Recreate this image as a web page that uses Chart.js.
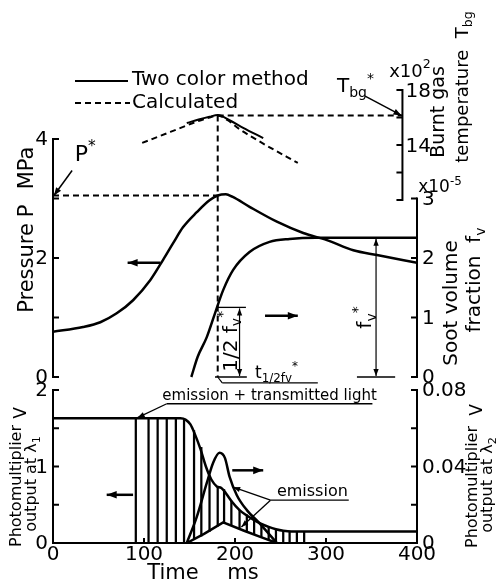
<!doctype html>
<html lang="en">
<head>
<meta charset="utf-8">
<title>Soot formation and burnt gas temperature</title>
<script src="https://cdn.jsdelivr.net/npm/chart.js@4.4.1/dist/chart.umd.min.js"></script>
<style>
  * { margin: 0; padding: 0; }
  body { background: #fff; }
  .chartBox { position: relative; width: 496px; height: 585px; }
</style>
</head>
<body>
<div class="chartBox"><canvas id="myChart"></canvas></div>
<script>
// ---- data ----
const timeTicks = [0, 100, 200, 300, 400];

// top panel: burnt gas temperature, x10^2 K
const tempCalcTime = [98, 129, 158, 172, 181, 192, 205, 231, 269];
const tempCalc = [14.15, 14.95, 15.7, 16.0, 16.15, 15.8, 15.15, 14.1, 12.7];
const tempTwoColorTime = [147, 160, 172, 181, 194, 209, 231];
const tempTwoColor = [15.6, 15.85, 16.05, 16.18, 15.8, 15.25, 14.5];
const tempTicks = [10, 12, 14, 16, 18];
const tempLabels = ['', '', '14', '', '18'];

// middle panel: pressure (MPa) and soot volume fraction (x10^-5)
const pressTime = [0, 33, 52, 70, 88, 107, 121, 132, 143, 158, 172, 181, 190, 197, 216, 246, 275, 301, 330, 356, 400];
const pressure = [0.76, 0.84, 0.92, 1.07, 1.29, 1.63, 1.97, 2.25, 2.52, 2.77, 2.97, 3.05, 3.07, 3.03, 2.86, 2.61, 2.42, 2.30, 2.13, 2.05, 1.92];
const sootTime = [152, 159, 169, 178, 187, 198, 216, 238, 260, 289, 400];
const soot = [0, 0.34, 0.67, 1.07, 1.46, 1.8, 2.1, 2.27, 2.32, 2.34, 2.34];
const pressTicks = [0, 1, 2, 3, 4];
const pressLabels = ['0', '', '2', '', '4'];
const sootTicks = [0, 1, 2, 3];
const sootLabels = ['0', '1', '2', '3'];

// bottom panel: photomultiplier outputs (V)
const pm1Time = [0, 140, 146, 151, 156, 162, 168, 174, 180, 185, 190, 196, 205, 213, 221, 229, 237, 245, 253, 262, 400];
const pm1 = [1.63, 1.63, 1.61, 1.55, 1.42, 1.23, 1.0, 0.83, 0.74, 0.72, 0.65, 0.55, 0.43, 0.36, 0.30, 0.25, 0.21, 0.18, 0.16, 0.15, 0.15];
const em1Time = [147, 166, 187, 210, 230, 246];
const em1 = [0, 0.12, 0.27, 0.16, 0.07, 0];
const em2Time = [147, 158, 169, 176, 183, 189, 194, 202, 213, 227, 246];
const em2 = [0, 0.0137, 0.0314, 0.042, 0.0472, 0.0444, 0.0347, 0.025, 0.0172, 0.0103, 0];
const hatchTime = [91, 105, 115, 125, 135, 144, 155, 163, 172, 181, 188, 196, 205, 213, 221, 229, 237, 245, 253, 260, 268, 276];
const hatchHigh = [1.63, 1.63, 1.63, 1.63, 1.63, 1.63, 1.47, 1.25, 0.88, 0.73, 0.70, 0.55, 0.43, 0.37, 0.31, 0.25, 0.21, 0.18, 0.16, 0.15, 0.15, 0.15];
const hatchLow = [0, 0, 0, 0, 0, 0, 0.05, 0.09, 0.15, 0.22, 0.26, 0.23, 0.19, 0.15, 0.11, 0.08, 0.04, 0.01, 0, 0, 0, 0];
const pm1Ticks = [0, 0.5, 1, 1.5, 2];
const pm1Labels = ['0', '', '1', '', '2'];
const pm2Ticks = [0, 0.02, 0.04, 0.06, 0.08];
const pm2Labels = ['0', '', '0.04', '', '0.08'];

// characteristic values
const tPeak = 181, pStar = 3.05, tbgStar = 16.15, fvStar = 2.34;
const tempAxisAt = 384;

// ---- layout ----
const FONT = '"DejaVu Sans", sans-serif';
const AREA_TOP = 60, AREA_BOTTOM = 543;
// min/max so that vLo sits at pixel yLo and vHi at yHi inside the shared chart area
function band(vLo, vHi, yLo, yHi) {
  const k = (vHi - vLo) / (yLo - yHi);
  return { min: vLo - (AREA_BOTTOM - yLo) * k, max: vHi + (yHi - AREA_TOP) * k };
}
const pts = (xs, ys) => xs.map((x, i) => ({ x: x, y: ys[i] }));

function seg(ctx, x1, y1, x2, y2) {
  ctx.beginPath(); ctx.moveTo(x1, y1); ctx.lineTo(x2, y2); ctx.stroke();
}
function head(ctx, x1, y1, x2, y2, len) {
  const a = Math.atan2(y2 - y1, x2 - x1), w = len * 0.38;
  ctx.beginPath();
  ctx.moveTo(x2, y2);
  ctx.lineTo(x2 - len * Math.cos(a) + w * Math.sin(a), y2 - len * Math.sin(a) - w * Math.cos(a));
  ctx.lineTo(x2 - len * Math.cos(a) - w * Math.sin(a), y2 - len * Math.sin(a) + w * Math.cos(a));
  ctx.closePath(); ctx.fill();
}
function arrow(ctx, x1, y1, x2, y2, w, len, both) {
  ctx.lineWidth = w;
  seg(ctx, x1, y1, x2, y2);
  head(ctx, x1, y1, x2, y2, len);
  if (both) head(ctx, x2, y2, x1, y1, len);
}
function rich(ctx, parts, x, y, size, opts) {
  opts = opts || {};
  ctx.save();
  ctx.translate(x, y);
  if (opts.rotate) ctx.rotate(-Math.PI / 2);
  ctx.textBaseline = 'middle';
  ctx.textAlign = 'left';
  const items = parts.map(p => {
    const part = typeof p === 'string' ? { t: p } : p;
    const s = part.sub || part.sup ? size * 0.7 : size;
    ctx.font = s + 'px ' + FONT;
    return { t: part.t, s: s, w: ctx.measureText(part.t).width,
             dy: part.sub ? size * 0.3 : part.sup ? -size * 0.38 : 0 };
  });
  const total = items.reduce((a, it) => a + it.w, 0);
  let cx = opts.align === 'left' ? 0 : opts.align === 'right' ? -total : -total / 2;
  items.forEach(it => {
    ctx.font = it.s + 'px ' + FONT;
    ctx.fillText(it.t, cx, it.dy);
    cx += it.w;
  });
  ctx.restore();
}
// vertical axis with inward ticks; dir = +1 ticks to the right, labels left
function vAxis(ctx, px, scale, ticks, labels, dir) {
  const yTop = scale.getPixelForValue(ticks[ticks.length - 1]);
  const yBot = scale.getPixelForValue(ticks[0]);
  ctx.lineWidth = 2;
  seg(ctx, px, yTop - 1, px, yBot + 1);
  ctx.font = '20px ' + FONT;
  ctx.textBaseline = 'middle';
  ctx.textAlign = dir > 0 ? 'right' : 'left';
  ticks.forEach((v, i) => {
    const y = scale.getPixelForValue(v);
    seg(ctx, px, y, px + dir * 6, y);
    if (labels[i]) ctx.fillText(labels[i], px - dir * 5, y + 1);
  });
}

const decorations = {
  id: 'decorations',
  afterDraw(chart) {
    const { ctx, scales } = chart;
    const X = v => scales.x.getPixelForValue(v);
    const T = v => scales.yT.getPixelForValue(v);
    const P = v => scales.yP.getPixelForValue(v);
    const V = v => scales.yV1.getPixelForValue(v);
    ctx.save();
    ctx.strokeStyle = '#000';
    ctx.fillStyle = '#000';

    // axes
    vAxis(ctx, X(tempAxisAt), scales.yT, tempTicks, [], -1);
    ctx.font = '20px ' + FONT; ctx.textAlign = 'left'; ctx.textBaseline = 'middle';
    tempTicks.forEach((v, i) => { if (tempLabels[i]) ctx.fillText(tempLabels[i], X(tempAxisAt) + 3, T(v) + 2); });
    vAxis(ctx, X(0), scales.yP, pressTicks, pressLabels, 1);
    vAxis(ctx, X(400), scales.yP, sootTicks, sootLabels, -1);
    vAxis(ctx, X(0), scales.yV1, pm1Ticks, pm1Labels, 1);
    vAxis(ctx, X(400), scales.yV2, pm2Ticks, pm2Labels, -1);
    ctx.lineWidth = 2;
    timeTicks.slice(1, -1).forEach(t => seg(ctx, X(t), V(0), X(t), V(0) - 5));

    // dashed guide lines through the peak
    ctx.lineWidth = 2;
    ctx.setLineDash([6, 4]);
    seg(ctx, X(0), P(pStar), X(tPeak), P(pStar));
    seg(ctx, X(tPeak), T(tbgStar), X(tPeak), P(0));
    seg(ctx, X(tPeak), T(tbgStar), X(tempAxisAt), T(tbgStar));
    ctx.setLineDash([]);

    // legend
    ctx.lineWidth = 2;
    seg(ctx, 75, 81, 128, 81);
    ctx.setLineDash([6, 4]);
    seg(ctx, 75, 103, 130, 103);
    ctx.setLineDash([]);
    rich(ctx, ['Two color method'], 132, 80, 20, { align: 'left' });
    rich(ctx, ['Calculated'], 132, 103, 20, { align: 'left' });

    // starred values
    rich(ctx, ['P', { t: '*', sup: true }], X(24), P(3.72), 22, { align: 'left' });
    arrow(ctx, X(21), P(3.47), X(1), P(pStar), 1.5, 8);
    rich(ctx, ['T', { t: 'bg', sub: true }, { t: '*', sup: true }], 337, 87, 20, { align: 'left' });
    arrow(ctx, X(343), T(17.55), X(tempAxisAt) - 1, T(tbgStar), 1.5, 8);
    rich(ctx, ['x10', { t: '2', sup: true }], 410, 72, 18);
    rich(ctx, ['x10', { t: '-5', sup: true }], 440, 188, 17);

    // side arrows
    arrow(ctx, X(118), P(1.92), X(82), P(1.92), 2.5, 10);
    arrow(ctx, X(233), P(1.03), X(269), P(1.03), 2.5, 10);
    arrow(ctx, X(88), V(0.63), X(59), V(0.63), 2.5, 10);
    arrow(ctx, X(197), V(0.95), X(231), V(0.95), 2.5, 10);

    // half soot fraction marker
    ctx.lineWidth = 1.3;
    seg(ctx, X(tPeak) - 1, P(fvStar / 2), X(212), P(fvStar / 2));
    seg(ctx, X(178), P(0), X(213), P(0));
    arrow(ctx, X(205), P(0) - 1, X(205), P(fvStar / 2) + 1, 1.2, 7, true);
    rich(ctx, ['1/2 f', { t: 'v', sub: true }, { t: '*', sup: true }], X(196), P(0.6), 20, { rotate: true });
    seg(ctx, X(tPeak), P(0), X(186), P(-0.1));
    seg(ctx, X(186), P(-0.1), X(291), P(-0.1));
    rich(ctx, ['t', { t: '1/2fv', sub: true }, { t: '*', sup: true }], X(222), P(0.06), 17, { align: 'left' });

    // full soot fraction marker
    ctx.lineWidth = 1.3;
    seg(ctx, X(334), P(0), X(376), P(0));
    arrow(ctx, X(355), P(0) - 1, X(355), P(fvStar) + 1, 1.2, 7, true);
    rich(ctx, ['f', { t: 'v', sub: true }, { t: '*', sup: true }], X(344), P(1.0), 20, { rotate: true });

    // bottom panel notes
    rich(ctx, ['emission + transmitted light'], X(238), V(1.92), 15);
    ctx.lineWidth = 1.3;
    seg(ctx, X(125), V(1.82), X(351), V(1.82));
    arrow(ctx, X(125), V(1.82), X(93), V(1.64), 1.3, 7);
    rich(ctx, ['emission'], X(285), V(0.67), 16);
    seg(ctx, X(239), V(0.56), X(325), V(0.56));
    arrow(ctx, X(239), V(0.56), X(198), V(0.73), 1.3, 7);
    arrow(ctx, X(239), V(0.56), X(207), V(0.21), 1.3, 7);

    // axis titles
    rich(ctx, ['Pressure'], 28, 268, 21, { rotate: true });
    rich(ctx, ['P'], 28, 211, 21, { rotate: true });
    rich(ctx, ['MPa'], 28, 168, 21, { rotate: true });
    rich(ctx, ['Soot volume'], 452, 303, 20, { rotate: true });
    rich(ctx, ['fraction  f', { t: 'v', sub: true }], 475, 280, 20, { rotate: true });
    rich(ctx, ['Burnt gas'], 439, 112, 19, { rotate: true });
    rich(ctx, ['temperature  T', { t: 'bg', sub: true }], 463, 87, 18, { rotate: true });
    rich(ctx, ['Photomultiplier'], 17, 486, 16, { rotate: true });
    rich(ctx, ['output at \u03bb', { t: '1', sub: true }], 32, 484, 16, { rotate: true });
    rich(ctx, ['V'], 22, 413, 17, { rotate: true });
    rich(ctx, ['Photomultiplier'], 473, 487, 16, { rotate: true });
    rich(ctx, ['output at \u03bb', { t: '2', sub: true }], 488, 485, 16, { rotate: true });
    rich(ctx, ['V'], 478, 410, 17, { rotate: true });
    rich(ctx, ['Time'], 173, 574, 21);
    rich(ctx, ['ms'], 243, 574, 21);
    ctx.restore();
  }
};

const curve = (yAxisID, xs, ys, extra) => Object.assign({
  type: 'line', xAxisID: 'x', yAxisID: yAxisID, data: pts(xs, ys),
  borderColor: '#000', borderWidth: 2.5, pointRadius: 0, fill: false,
  cubicInterpolationMode: 'monotone'
}, extra || {});

new Chart(document.getElementById('myChart'), {
  type: 'line',
  data: {
    datasets: [
      curve('yT', tempCalcTime, tempCalc, { borderWidth: 2, borderDash: [6, 4] }),
      curve('yT', tempTwoColorTime, tempTwoColor, { borderWidth: 2 }),
      curve('yP', pressTime, pressure),
      curve('yP', sootTime, soot),
      curve('yV1', pm1Time, pm1),
      curve('yV1', em1Time, em1, { cubicInterpolationMode: 'default', tension: 0 }),
      curve('yV2', em2Time, em2),
      {
        type: 'bar', xAxisID: 'x', yAxisID: 'yV1',
        data: hatchTime.map((t, i) => ({ x: t, y: [hatchLow[i], hatchHigh[i]] })),
        backgroundColor: '#000', borderWidth: 0, barThickness: 1.6
      }
    ]
  },
  options: {
    responsive: true,
    maintainAspectRatio: false,
    animation: false,
    layout: { padding: { left: 53, right: 79, top: AREA_TOP, bottom: 0 } },
    plugins: { legend: { display: false }, tooltip: { enabled: false } },
    scales: {
      x: {
        type: 'linear', min: 0, max: 400, offset: false,
        afterBuildTicks: s => { s.ticks = timeTicks.map(v => ({ value: v })); },
        afterFit: s => { s.height = 585 - AREA_BOTTOM; },
        ticks: { color: '#000', font: { family: 'DejaVu Sans', size: 20 }, padding: 0, maxRotation: 0 },
        grid: { display: false, drawTicks: false },
        border: { color: '#000', width: 2 }
      },
      yT: Object.assign({ display: false }, band(10, 18, 200, 90)),
      yP: Object.assign({ display: false }, band(0, 4, 377, 139)),
      yV1: Object.assign({ display: false }, band(0, 2, 543, 390)),
      yV2: Object.assign({ display: false }, band(0, 0.08, 543, 390))
    }
  },
  plugins: [decorations]
});
</script>
</body>
</html>
